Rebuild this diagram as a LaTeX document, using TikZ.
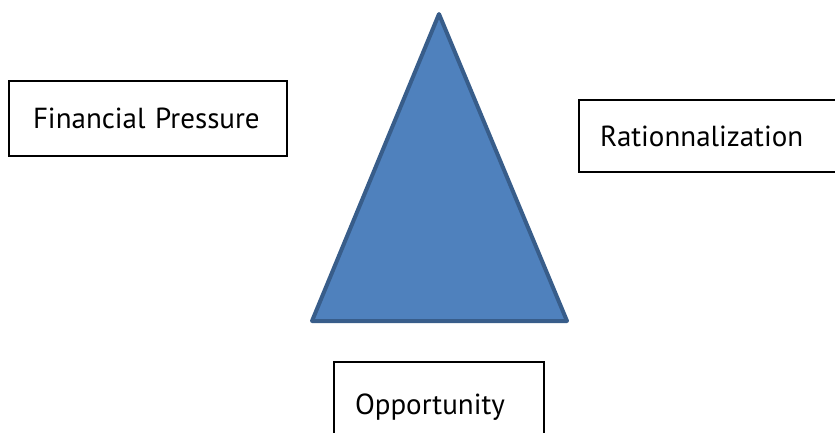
\documentclass[tikz,border=0pt]{standalone}
\usepackage{fontspec}
\setmainfont{PT Sans}
\usetikzlibrary{positioning}

\definecolor{fillblue}{HTML}{4F81BD}
\definecolor{edgeblue}{HTML}{385D8A}

\tikzset{
	factor/.style={draw,line width=1.3pt,rectangle,inner ysep=0pt,align=left,font=\fontsize{29}{34}\selectfont}
}

\begin{document}
\begin{tikzpicture}[x=1pt,y=-1pt]
		\useasboundingbox (0,0) rectangle (835,432);
		\coordinate (top) at (439,14);
		\coordinate (bl) at (312,321);
		\coordinate (br) at (567,321);
		\draw [fill=fillblue,draw=edgeblue,line width=4pt,line join=round] (top) -- (bl) -- (br) -- cycle;
		\node [factor,inner xsep=24pt,text width=230pt,minimum height=75pt] at (148,118.5) (pressure) {Financial Pressure};
		\node [factor,inner xsep=21pt,text width=220pt,minimum height=72pt] at (710,136) (rational) {Rationnalization};
		\node [factor,inner xsep=21pt,text width=168pt,minimum height=90pt] at (439,407) (opport) {Opportunity};
		
	\end{tikzpicture}
\end{document}
